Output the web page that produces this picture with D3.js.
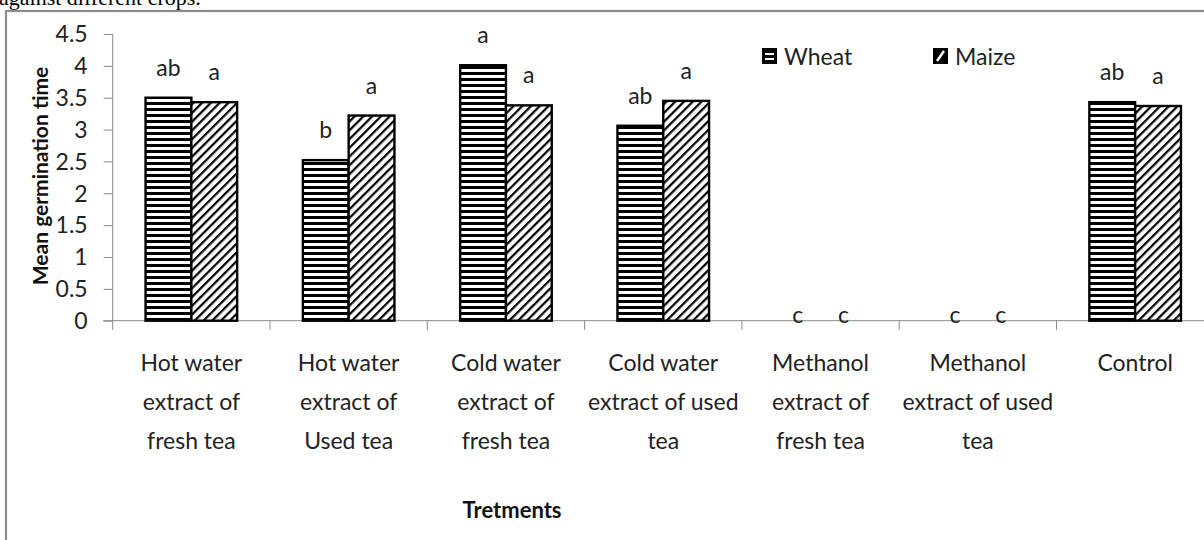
<!DOCTYPE html>
<html>
<head>
<meta charset="utf-8">
<script src="https://cdn.jsdelivr.net/npm/d3@7"></script>
<style>
  body { margin: 0; background: #fff; }
  svg { display: block; }
  text { font-family: Lato, "Open Sans", sans-serif; fill: #222; }
</style>
</head>
<body>
<svg></svg>
<script>
(function (d3) {
  'use strict';

  const categories = [
    ['Hot water', 'extract of', 'fresh tea'],
    ['Hot water', 'extract of', 'Used tea'],
    ['Cold water', 'extract of', 'fresh tea'],
    ['Cold water', 'extract of used', 'tea'],
    ['Methanol', 'extract of', 'fresh tea'],
    ['Methanol', 'extract of used', 'tea'],
    ['Control']
  ];
  const series = ['Wheat', 'Maize'];
  const wheat = [3.50, 2.52, 4.01, 3.06, 0, 0, 3.43];
  const maize = [3.43, 3.22, 3.38, 3.45, 0, 0, 3.37];
  const wheatLetters = ['ab', 'b', 'a', 'ab', 'c', 'c', 'ab'];
  const maizeLetters = ['a', 'a', 'a', 'a', 'c', 'c', 'a'];
  const yTicks = [0, 0.5, 1, 1.5, 2, 2.5, 3, 3.5, 4, 4.5];

  const width = 1204;
  const height = 540;
  const svg = d3.select('svg').attr('width', width).attr('height', height);

  // patterns
  const defs = svg.append('defs');
  const hp = defs.append('pattern')
      .attr('id', 'hlines')
      .attr('patternUnits', 'userSpaceOnUse')
      .attr('width', 8).attr('height', 6);
  hp.append('rect').attr('width', 8).attr('height', 6).attr('fill', '#fff');
  hp.append('rect').attr('y', 0).attr('width', 8).attr('height', 3).attr('fill', '#000');

  const dp = defs.append('pattern')
      .attr('id', 'dlines')
      .attr('patternUnits', 'userSpaceOnUse')
      .attr('width', 6.2).attr('height', 6.2)
      .attr('patternTransform', 'rotate(45)');
  dp.append('rect').attr('width', 6.2).attr('height', 6.2).attr('fill', '#fff');
  dp.append('rect').attr('x', 0).attr('width', 2.2).attr('height', 6.2).attr('fill', '#000');

  const fills = { Wheat: 'url(#hlines)', Maize: 'url(#dlines)' };

  // cropped caption line above the chart
  svg.append('text')
      .attr('x', -1).attr('y', 5)
      .style('font-family', '"Liberation Serif", serif')
      .style('font-size', '22px')
      .style('fill', '#000')
      .text('against different crops.');

  // chart frame
  svg.append('rect')
      .attr('x', 6).attr('y', 11)
      .attr('width', 1240).attr('height', 600)
      .attr('fill', 'none')
      .attr('stroke', '#8c8c8c')
      .attr('stroke-width', 2.2);

  const x0 = d3.scaleBand()
      .domain(d3.range(categories.length))
      .range([112.7, 1213.8]);
  const groupW = 91.6;
  const x1 = d3.scaleBand()
      .domain(series)
      .range([0, groupW]);
  const y = d3.scaleLinear().domain([0, 4.5]).range([320.7, 34]);

  const axisColor = '#8a8a8a';

  // y axis
  const yAxis = svg.append('g')
      .attr('transform', `translate(${x0.range()[0]},0)`)
      .call(d3.axisLeft(y).tickValues(yTicks).tickSize(9).tickPadding(16)
        .tickFormat(d3.format('')));
  yAxis.select('.domain').remove();
  yAxis.selectAll('line').attr('stroke', axisColor);
  yAxis.selectAll('text')
      .style('font-size', '23px')
      .style('font-family', 'Lato, sans-serif')
      .attr('fill', '#222')
      .attr('dy', '0.34em');
  svg.append('line')
      .attr('x1', x0.range()[0]).attr('x2', x0.range()[0])
      .attr('y1', y(4.5)).attr('y2', y(0) + 9)
      .attr('stroke', axisColor);

  // x axis line + category boundary ticks
  svg.append('line')
      .attr('x1', 103).attr('x2', width)
      .attr('y1', y(0)).attr('y2', y(0))
      .attr('stroke', axisColor);
  svg.selectAll('.xtick')
    .data(d3.range(1, categories.length + 1))
    .enter().append('line')
      .attr('class', 'xtick')
      .attr('x1', d => x0.range()[0] + d * x0.step())
      .attr('x2', d => x0.range()[0] + d * x0.step())
      .attr('y1', y(0)).attr('y2', y(0) + 9)
      .attr('stroke', axisColor);

  // bars
  const rows = categories.map((c, i) => ({
    i,
    vals: [
      { s: 'Wheat', v: wheat[i], lab: wheatLetters[i] },
      { s: 'Maize', v: maize[i], lab: maizeLetters[i] }
    ]
  }));
  const off = (x0.bandwidth() - groupW) / 2;

  const groups = svg.selectAll('.grp').data(rows)
    .enter().append('g')
      .attr('class', 'grp')
      .attr('transform', d => `translate(${x0(d.i) + off},0)`);

  groups.selectAll('rect').data(d => d.vals.filter(v => v.v > 0))
    .enter().append('rect')
      .attr('x', d => x1(d.s))
      .attr('y', d => y(d.v))
      .attr('width', x1.bandwidth())
      .attr('height', d => y(0) - y(d.v))
      .attr('fill', d => fills[d.s])
      .attr('stroke', '#000')
      .attr('stroke-width', 2.4);

  groups.selectAll('.lab').data(d => d.vals)
    .enter().append('text')
      .attr('class', 'lab')
      .attr('x', d => x1(d.s) + x1.bandwidth() / 2)
      .attr('y', d => d.v > 0 ? y(d.v) - 22 : y(0) + 2)
      .attr('text-anchor', 'middle')
      .style('font-size', '23px')
      .text(d => d.lab);

  // category labels
  const cat = svg.selectAll('.cat').data(categories)
    .enter().append('text')
      .attr('class', 'cat')
      .attr('text-anchor', 'middle')
      .style('font-size', '23px')
      .attr('transform', (d, i) => `translate(${x0(i) + x0.bandwidth() / 2},371)`);
  cat.selectAll('tspan').data(d => d)
    .enter().append('tspan')
      .attr('x', 0)
      .attr('y', (d, j) => j * 39)
      .text(d => d);

  // axis titles
  svg.append('text')
      .attr('transform', 'translate(48,176) rotate(-90)')
      .attr('text-anchor', 'middle')
      .style('font-size', '21px')
      .style('font-weight', 'bold')
      .style('fill', '#111')
      .text('Mean germination time');

  svg.append('text')
      .attr('x', 512).attr('y', 518)
      .attr('text-anchor', 'middle')
      .style('font-size', '22px')
      .style('font-weight', 'bold')
      .style('fill', '#111')
      .text('Tretments');

  // legend
  const legendX = [762, 933];
  const legend = svg.selectAll('.leg').data(series)
    .enter().append('g')
      .attr('class', 'leg')
      .attr('transform', (d, i) => `translate(${legendX[i]},48)`);
  legend.append('rect')
      .attr('width', 15).attr('height', 16)
      .attr('fill', d => d === 'Wheat' ? '#000' : '#000');
  legend.filter(d => d === 'Wheat').selectAll('.wl')
    .data([5, 10])
    .enter().append('rect')
      .attr('x', 3).attr('y', d => d)
      .attr('width', 9).attr('height', 2)
      .attr('fill', '#fff');
  legend.filter(d => d === 'Maize').append('line')
      .attr('x1', 4).attr('y1', 13).attr('x2', 11).attr('y2', 3)
      .attr('stroke', '#fff').attr('stroke-width', 2.4);
  legend.append('text')
      .attr('x', 22).attr('y', 17)
      .style('font-size', '23px')
      .text(d => d);

}(d3));
</script>
</body>
</html>
